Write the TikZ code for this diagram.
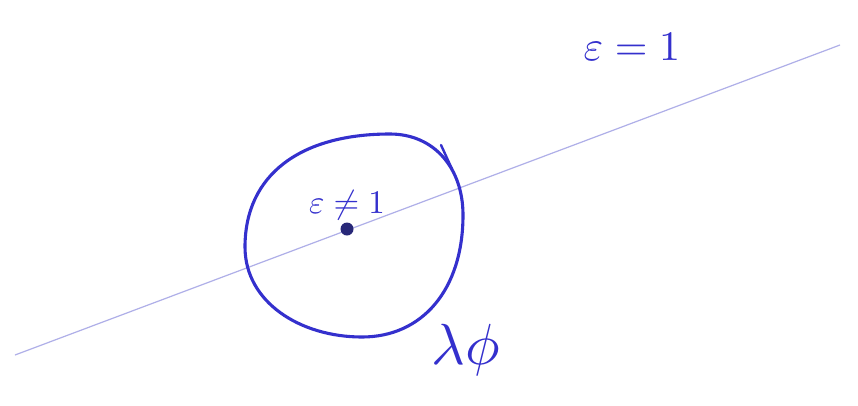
\documentclass[tikz,border=0pt]{standalone}
\begin{document}
\begin{tikzpicture}[x=1pt,y=-1pt,
  ink/.style={draw=inkblue,line width=3.1pt,line cap=round,line join=round},
  lbl/.style={text=inkblue,inner sep=0pt,font=\normalsize}]
\definecolor{inkblue}{RGB}{52,48,205}
\definecolor{faint}{RGB}{175,175,232}
\definecolor{dotc}{RGB}{40,40,120}
\useasboundingbox[fill=white] (0,0) rectangle (858,405);
\coordinate (l0) at (15,355);
\coordinate (l1) at (840,45);
\draw[faint,line width=1.2pt] (l0) -- (l1);
\coordinate (ct) at (390,134);
\coordinate (cr) at (463,215);
\coordinate (cb) at (362,337);
\coordinate (cl) at (245,247);
\draw[ink] (ct) .. controls (434,134) and (463,168) .. (cr)
  .. controls (463,290) and (422,337) .. (cb)
  .. controls (300,337) and (245,302) .. (cl)
  .. controls (245,175) and (300,134) .. (ct);
\coordinate (t0) at (441,145);
\coordinate (t1) at (452,169);
\draw[ink,line width=2.4pt] (t0) -- (t1);
\node[circle,fill=dotc,minimum size=13pt,inner sep=0pt] (dot) at (347,229) {};
\node[lbl] (eps1) at (347,205) {\scalebox{3.3}{$\varepsilon\neq1$}};
\node[lbl] (eps2) at (632,47) {\scalebox{4.2}{$\varepsilon=1$}};
\node[lbl] (lp) at (466,350) {\scalebox{5.8}{$\lambda\phi$}};
\end{tikzpicture}
\end{document}
